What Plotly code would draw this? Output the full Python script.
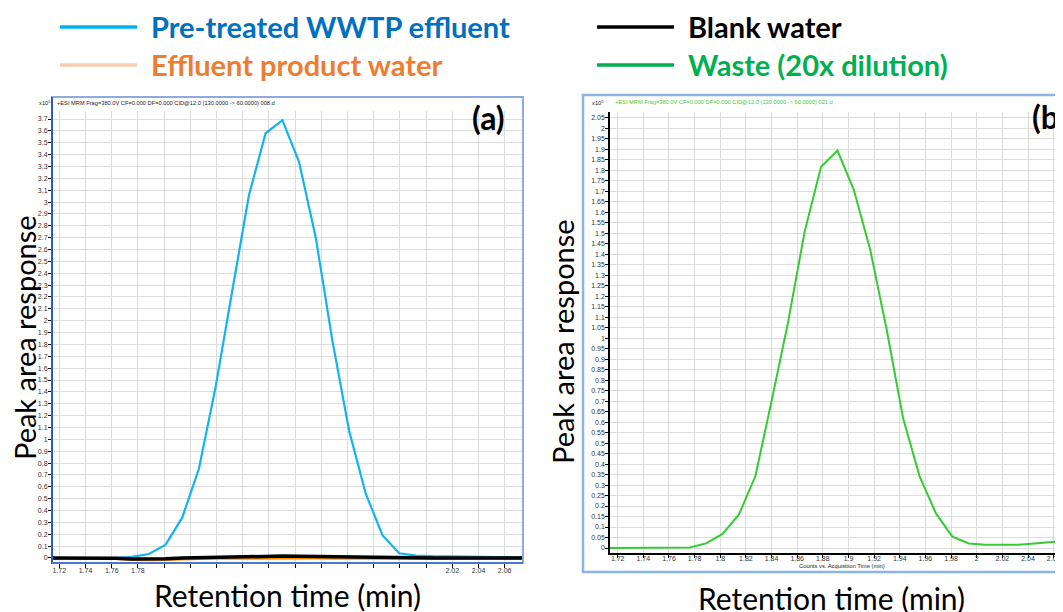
import plotly.graph_objects as go

# ---------------- data ----------------
time_a = [1.7118, 1.7245, 1.7373, 1.7500, 1.7628, 1.7755, 1.7883, 1.8010, 1.8138, 1.8265,
          1.8393, 1.8520, 1.8648, 1.8775, 1.8903, 1.9030, 1.9158, 1.9285, 1.9413, 1.9540,
          1.9668, 1.9795, 1.9923, 2.0050, 2.0178, 2.0305, 2.0433, 2.0560, 2.0688, 2.0815]
pretreated = [0.0, 0.0, 0.0, 0.0, 0.002, 0.01, 0.034, 0.11, 0.34, 0.75,
              1.44, 2.25, 3.06, 3.58, 3.69, 3.34, 2.70, 1.83, 1.07, 0.54,
              0.19, 0.04, 0.02, 0.015, 0.012, 0.011, 0.01, 0.008, 0.007, 0.006]
blank = [0.0, 0.0, 0.0, 0.0, -0.003, -0.008, -0.01, -0.006, 0.0, 0.003,
         0.006, 0.01, 0.012, 0.014, 0.016, 0.014, 0.012, 0.01, 0.006, 0.003,
         0.0, 0.0, 0.0, 0.0, 0.0, 0.0, 0.0, 0.0, 0.0, 0.0]
product = [-0.006, -0.006, -0.006, -0.006, -0.008, -0.016, -0.02, -0.016, -0.01, -0.008,
           -0.006, -0.005, -0.004, -0.004, -0.004, -0.004, -0.005, -0.006, -0.006, -0.008,
           -0.008, -0.006, -0.006, -0.006, -0.006, -0.006, -0.006, -0.006, -0.006, -0.006]

time_b = [1.7122, 1.7250, 1.7378, 1.7506, 1.7634, 1.7762, 1.7890, 1.8018, 1.8146, 1.8274,
          1.8402, 1.8530, 1.8658, 1.8786, 1.8914, 1.9042, 1.9170, 1.9298, 1.9426, 1.9554,
          1.9682, 1.9810, 1.9938, 2.0066, 2.0194, 2.0322, 2.0450, 2.0578, 2.0706]
waste = [0.0, 0.0, 0.0, 0.0, 0.0, 0.003, 0.022, 0.067, 0.16, 0.343,
         0.705, 1.08, 1.508, 1.817, 1.894, 1.706, 1.42, 1.04, 0.618, 0.343,
         0.165, 0.054, 0.022, 0.016, 0.015, 0.016, 0.022, 0.028, 0.034]

xtick_vals = [1.72, 1.74, 1.76, 1.78, 1.80, 1.82, 1.84, 1.86, 1.88, 1.90,
              1.92, 1.94, 1.96, 1.98, 2.00, 2.02, 2.04, 2.06]
xtick_text_a = ["1.72", "1.74", "1.76", "1.78", " ", " ", " ", " ", " ", " ",
                " ", " ", " ", " ", " ", "2.02", "2.04", "2.06"]
xtick_text_b = ["1.72", "1.74", "1.76", "1.78", "1.8", "1.82", "1.84", "1.86", "1.88", "1.9",
                "1.92", "1.94", "1.96", "1.98", "2", "2.02", "2.04", "2.06"]
ytick_vals_a = [i / 10 for i in range(38)]
ytick_text_a = [("%.1f" % v).rstrip("0").rstrip(".") if v != 0 else "0" for v in ytick_vals_a]
ytick_vals_b = [i / 20 for i in range(42)]
ytick_text_b = [("%.2f" % v).rstrip("0").rstrip(".") if v != 0 else "0" for v in ytick_vals_b]

legend_names = ["Pre-treated WWTP effluent", "Effluent product water", "Blank water", "Waste (20x dilution)"]
header_a = "+ESI MRM Frag=380.0V CF=0.000 DF=0.000 CID@12.0 (130.0000 -> 60.0000) 008.d"
header_b = "+ESI MRM Frag=380.0V CF=0.000 DF=0.000 CID@12.0 (130.0000 -> 60.0000) 021.d"

# ---------------- layout helpers ----------------
# the page body has an 8px margin, so the figure is drawn 8px in from the top-left
OFF = 8
W, H = 1063 - OFF, 612 - OFF
def px(x): return (x - OFF) / W
def py(y): return 1 - (y - OFF) / H

BIG = "Lato, 'Open Sans', sans-serif"
SMALL = "Arial, 'Liberation Sans', sans-serif"

fig = go.Figure()
fig.add_trace(go.Scatter(x=time_a, y=pretreated, mode="lines", line=dict(color="#12B4F0", width=2.2),
                         xaxis="x", yaxis="y", showlegend=False, name=legend_names[0]))
fig.add_trace(go.Scatter(x=time_a, y=product, mode="lines", line=dict(color="#FF8C00", width=2),
                         xaxis="x", yaxis="y", showlegend=False, name=legend_names[1]))
fig.add_trace(go.Scatter(x=time_a, y=blank, mode="lines", line=dict(color="#000000", width=3.5),
                         xaxis="x", yaxis="y", showlegend=False, name=legend_names[2]))
fig.add_trace(go.Scatter(x=time_b, y=waste, mode="lines", line=dict(color="#33CC33", width=2),
                         xaxis="x2", yaxis="y2", showlegend=False, name=legend_names[3]))

tickfont = dict(family=SMALL, size=7, color="#333333")
grid = "#DDDDDD"
fig.update_layout(
    width=W, height=H, margin=dict(l=0, r=0, t=0, b=0),
    paper_bgcolor="white", plot_bgcolor="white",
    xaxis=dict(domain=[px(52), px(523)], range=[1.7144, 2.074], anchor="y",
               tickmode="array", tickvals=xtick_vals, ticktext=xtick_text_a,
               ticks="outside", ticklen=4, tickcolor="#000", tickfont=tickfont,
               ticklabelstandoff=-3,
               showgrid=True, gridcolor=grid, gridwidth=1, zeroline=False, showline=False),
    yaxis=dict(domain=[py(563), py(111)], range=[-0.0422, 3.7676], anchor="x",
               tickmode="array", tickvals=ytick_vals_a, ticktext=ytick_text_a,
               ticks="outside", ticklen=3, tickcolor="#000", tickfont=tickfont,
               ticklabelstandoff=-1,
               showgrid=True, gridcolor=grid, gridwidth=1, zeroline=False, showline=False),
    xaxis2=dict(domain=[px(610), 1.0], range=[1.714, 2.0673], anchor="y2",
                tickmode="array", tickvals=xtick_vals, ticktext=xtick_text_b,
                ticks="outside", ticklen=3, tickcolor="#000", tickfont=tickfont,
                ticklabelstandoff=-5,
                showgrid=True, gridcolor=grid, gridwidth=1, zeroline=False,
                showline=True, linecolor="#000", linewidth=1.5),
    yaxis2=dict(domain=[py(553), py(112)], range=[-0.0238, 2.078], anchor="x2",
                tickmode="array", tickvals=ytick_vals_b, ticktext=ytick_text_b,
                ticks="outside", ticklen=3, tickcolor="#000", tickfont=tickfont,
                ticklabelstandoff=-1,
                showgrid=True, gridcolor=grid, gridwidth=1, zeroline=False,
                showline=True, linecolor="#000", linewidth=1.5),
)

shapes = [
    # panel frames
    dict(type="rect", xref="paper", yref="paper", x0=px(52), x1=px(523), y0=py(563), y1=py(97),
         line=dict(color="#8FAADC", width=2), fillcolor="rgba(0,0,0,0)", layer="above"),
    dict(type="line", xref="paper", yref="paper", x0=px(52), x1=px(52), y0=py(564), y1=py(97),
         line=dict(color="#2A5CB8", width=2), layer="above"),
    dict(type="line", xref="paper", yref="paper", x0=px(52), x1=px(523), y0=py(563), y1=py(563),
         line=dict(color="#4A78CC", width=2), layer="above"),
    dict(type="rect", xref="paper", yref="paper", x0=px(583), x1=px(1075), y0=py(572), y1=py(95),
         line=dict(color="#8DB4E2", width=2.5), fillcolor="rgba(0,0,0,0)", layer="above"),
    # legend swatches
    dict(type="line", xref="paper", yref="paper", x0=px(60), x1=px(137), y0=py(27), y1=py(27),
         line=dict(color="#00B0F0", width=3.5)),
    dict(type="line", xref="paper", yref="paper", x0=px(60), x1=px(137), y0=py(65), y1=py(65),
         line=dict(color="#F8CBAD", width=3.5)),
    dict(type="line", xref="paper", yref="paper", x0=px(597), x1=px(674), y0=py(27), y1=py(27),
         line=dict(color="#000000", width=3.5)),
    dict(type="line", xref="paper", yref="paper", x0=px(597), x1=px(674), y0=py(65), y1=py(65),
         line=dict(color="#00B050", width=3.5)),
]
fig.update_layout(shapes=shapes)

def ann(text, x, y, size, color="#000", xanchor="center", yanchor="middle", angle=0, family=BIG):
    return dict(text=text, x=px(x), y=py(y), xref="paper", yref="paper", showarrow=False,
                xanchor=xanchor, yanchor=yanchor, textangle=angle,
                font=dict(family=family, size=size, color=color))

annotations = [
    ann("<b>" + legend_names[0] + "</b>", 149, 27, 29, "#0070C0", xanchor="left"),
    ann("<b>" + legend_names[1] + "</b>", 149, 65, 29, "#ED7D31", xanchor="left"),
    ann("<b>" + legend_names[2] + "</b>", 686, 27, 29, "#000000", xanchor="left"),
    ann("<b>" + legend_names[3] + "</b>", 686, 65, 29, "#00B050", xanchor="left"),
    ann("Peak area response", 24, 338, 29, "#000", angle=-90),
    ann("Peak area response", 562, 342, 29, "#000", angle=-90),
    ann("Retention time (min)", 287, 595, 30, "#000"),
    ann("Retention time (min)", 831, 598, 30, "#000"),
    ann("<b>(a)</b>", 488, 118, 32, "#000"),
    ann("<b>(b)</b>", 1049, 117, 32, "#000"),
    ann("x10<sup>5</sup>", 45, 103, 5.8, "#222", family=SMALL),
    ann(header_a, 55, 103, 5.7, "#222", xanchor="left", family=SMALL),
    ann("x10<sup>5</sup>", 598, 102, 5.8, "#222", family=SMALL),
    ann(header_b, 613, 102, 5.7, "#44CC44", xanchor="left", family=SMALL),
    ann("Counts vs. Acquisition Time (min)", 842, 566, 5.8, "#222", family=SMALL),
]
fig.update_layout(annotations=annotations)

fig.write_html("out.html")
